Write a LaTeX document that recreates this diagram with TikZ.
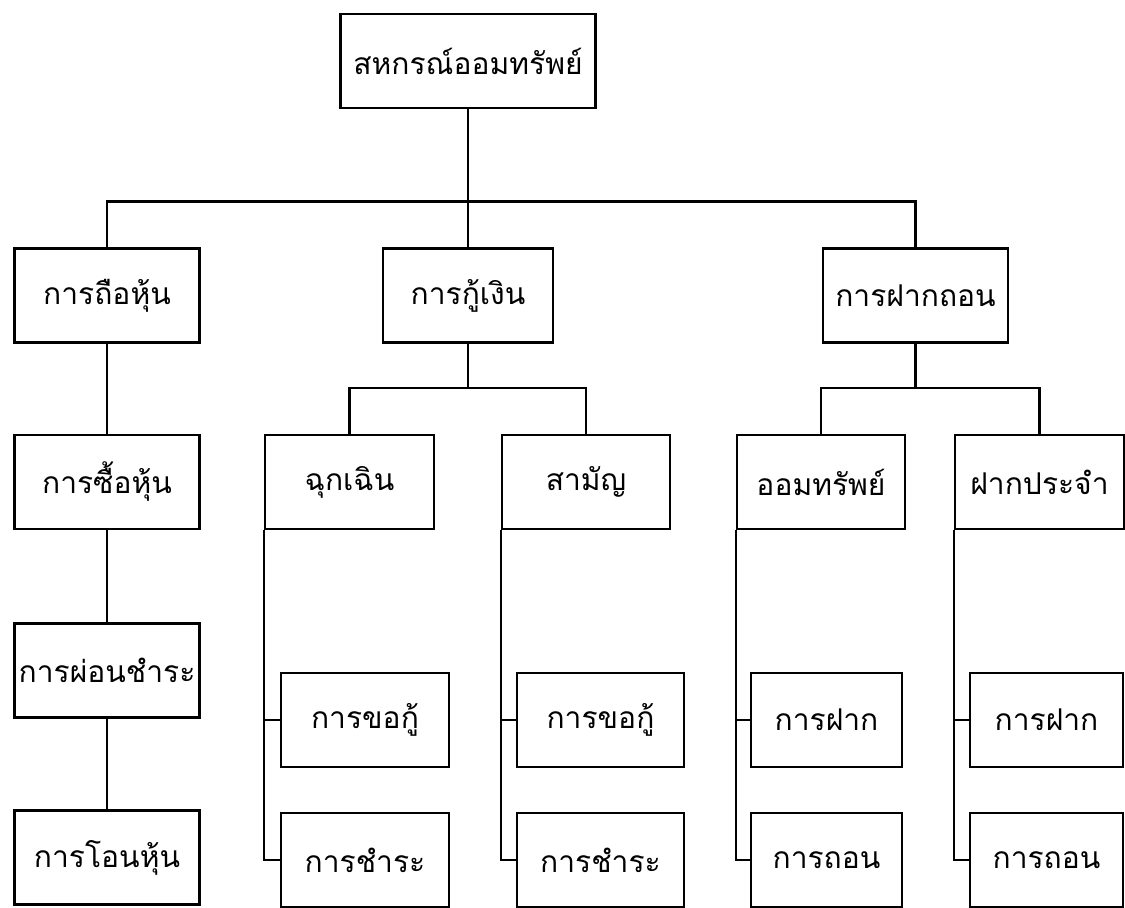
\documentclass[tikz,border=0pt]{standalone}
\usepackage{fontspec}
\newfontfamily\thaifont[Script=Thai]{Loma}
\begin{document}
\begin{tikzpicture}[x=1pt,y=-1pt,line width=2.2pt,
    box/.style={draw,rectangle,minimum height=94pt,inner sep=0pt,font=\thaifont\fontsize{30}{36}\selectfont}]
    \useasboundingbox (0,0) rectangle (1125,908);
    % top and first level
    \node[box,minimum width=255pt] (coop) at (468,61) {สหกรณ์ออมทรัพย์};
    \node[box,minimum width=185pt] (share) at (107,295.5) {การถือหุ้น};
    \node[box,minimum width=170pt] (loan) at (468,295.5) {การกู้เงิน};
    \node[box,minimum width=185pt] (deposit) at (915.5,295.5) {การฝากถอน};
    \draw (coop) -- (loan);
    \draw (share.north) -- ++(0,-46) -| (deposit.north);
    % shares column
    \node[box,minimum width=185pt] (buy) at (107,482) {การซื้อหุ้น};
    \node[box,minimum width=185pt] (install) at (107,670.5) {การผ่อนชำระ};
    \node[box,minimum width=185pt] (transfer) at (107,857.5) {การโอนหุ้น};
    \draw (share) -- (buy) -- (install) -- (transfer);
    % loans
    \node[box,minimum width=169pt] (emerg) at (349.5,482) {ฉุกเฉิน};
    \node[box,minimum width=168pt] (common) at (586,482) {สามัญ};
    \draw (emerg.north) -- ++(0,-46) coordinate (lb) -| (common.north);
    \draw (loan.south) -- (loan.south |- lb);
    \node[box,minimum width=168pt] (emergA) at (365,720) {การขอกู้};
    \node[box,minimum width=168pt] (emergB) at (365,860) {การชำระ};
    \node[box,minimum width=167pt] (commonA) at (600.5,720) {การขอกู้};
    \node[box,minimum width=167pt] (commonB) at (600.5,860) {การชำระ};
    \draw (emerg.south west) |- (emergB.west);
    \draw (emerg.south west |- emergA.west) -- (emergA.west);
    \draw (common.south west) |- (commonB.west);
    \draw (common.south west |- commonA.west) -- (commonA.west);
    % deposits
    \node[box,minimum width=168pt] (saving) at (821,482) {ออมทรัพย์};
    \node[box,minimum width=169pt] (fixed) at (1039.5,482) {ฝากประจำ};
    \draw (saving.north) -- ++(0,-46) coordinate (db) -| (fixed.north);
    \draw (deposit.south) -- (deposit.south |- db);
    \node[box,minimum width=151pt] (savingA) at (826.5,720) {การฝาก};
    \node[box,minimum width=151pt] (savingB) at (826.5,860) {การถอน};
    \node[box,minimum width=153pt] (fixedA) at (1046.5,720) {การฝาก};
    \node[box,minimum width=153pt] (fixedB) at (1046.5,860) {การถอน};
    \draw (saving.south west) |- (savingB.west);
    \draw (saving.south west |- savingA.west) -- (savingA.west);
    \draw (fixed.south west) |- (fixedB.west);
    \draw (fixed.south west |- fixedA.west) -- (fixedA.west);
\end{tikzpicture}
\end{document}
